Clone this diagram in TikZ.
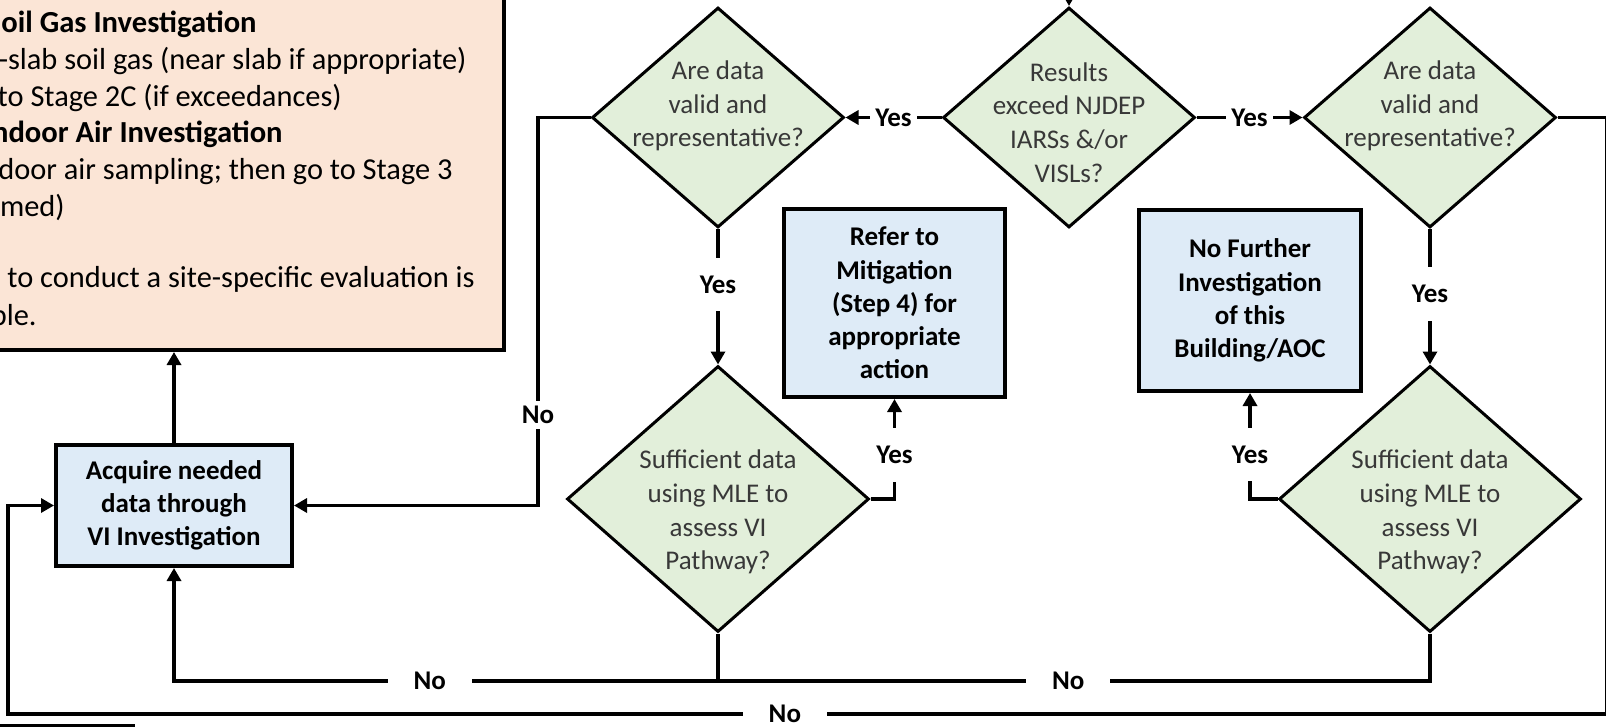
\documentclass[tikz,border=0pt]{standalone}
\usepackage{fontspec}
\setmainfont{Carlito}
\usetikzlibrary{shapes.geometric,arrows.meta}
\definecolor{stagepink}{HTML}{FBE5D6}
\definecolor{boxblue}{HTML}{DEEBF7}
\definecolor{diagreen}{HTML}{E2EFDA}
\definecolor{diagrey}{HTML}{383838}

\begin{document}
\begin{tikzpicture}[x=0.5pt,y=-0.5pt]
	\tikzstyle{dia}=[diamond,draw=black,line width=1.5pt,fill=diagreen,inner sep=0pt,minimum width=126pt,minimum height=110pt]
	\tikzstyle{bigdia}=[dia,minimum width=151pt,minimum height=133pt]
	\tikzstyle{diatext}=[align=center,text=diagrey,font=\fontsize{13.5}{16.8}\selectfont]
	\tikzstyle{box}=[rectangle,draw=black,line width=2pt,fill=boxblue,align=center,inner sep=0pt,font=\bfseries\fontsize{13.5}{16.6}\selectfont]
	\tikzstyle{frag}=[anchor=base east,inner sep=0pt,font=\fontsize{15.2}{18}\selectfont]
	\tikzstyle{fragb}=[frag,font=\bfseries\fontsize{15.3}{18}\selectfont]
	\tikzstyle{lbl}=[fill=white,inner xsep=2.5pt,inner ysep=2.5pt,font=\bfseries\fontsize{13.5}{16}\selectfont]
	\tikzstyle{vlbl}=[lbl,inner xsep=1pt,inner ysep=9pt]
	\tikzstyle{hlbl}=[lbl,inner xsep=13pt]
	\tikzstyle{link}=[line width=1.7pt]
	\tikzstyle{flow}=[link,-{Triangle[length=6.5pt,width=7pt]}]
	\useasboundingbox (0,0) rectangle (1606,727);
	% stage box, cut off at the left and top
	\node[rectangle,draw=black,line width=2pt,fill=stagepink,minimum width=272pt,minimum height=195pt] (stage) at (232,155) {};
	\node[fragb] (t1) at (257,33) {oil Gas Investigation};
	\node[frag] (t2) at (467,70) {-slab soil gas (near slab if appropriate)};
	\node[frag] (t3) at (342,107) {to Stage 2C (if exceedances)};
	\node[fragb] (t4) at (283,143) {ndoor Air Investigation};
	\node[frag] (t5) at (453,180) {door air sampling; then go to Stage 3};
	\node[frag] (t6) at (65,217) {rmed)};
	\node[frag] (t7) at (475,288) {to conduct a site-specific evaluation is};
	\node[frag] (t8) at (37,325) {ble.};
	\node[rectangle,draw=black,line width=1.7pt,fill=white,minimum width=86.5pt,minimum height=37pt] (next) at (46.5,763) {};
	% decisions
	\node[dia] (valid1) at (718,117.5) {};
	\node[diatext] (valid1t) at (718,106) {Are data\\valid and\\representative?};
	\node[dia] (res) at (1069,117.5) {};
	\node[diatext] (rest) at (1069,122.5) {Results\\exceed NJDEP\\IARSs \&/or\\VISLs?};
	\node[dia] (valid2) at (1430,117.5) {};
	\node[diatext] (valid2t) at (1430,106) {Are data\\valid and\\representative?};
	\node[bigdia] (suff1) at (718,499) {};
	\node[diatext] (suff1t) at (718,512) {Sufficient data\\using MLE to\\assess VI\\Pathway?};
	\node[bigdia] (suff2) at (1430,499) {};
	\node[diatext] (suff2t) at (1430,512) {Sufficient data\\using MLE to\\assess VI\\Pathway?};
	% actions
	\node[box,minimum width=110.5pt,minimum height=94pt] (refer) at (894.5,303) {Refer to\\Mitigation\\(Step 4) for\\appropriate\\action};
	\node[box,minimum width=111pt,minimum height=90.5pt] (nofur) at (1250,300.5) {No Further\\Investigation\\of this\\Building/AOC};
	\node[box,minimum width=118pt,minimum height=60.5pt] (acq) at (174,505.5) {Acquire needed\\data through\\VI Investigation};
	\coordinate (in) at (1069,-10);
	\coordinate (nobend) at (538,415);
	\coordinate (join) at (718,681);
	\coordinate (farright) at (1606.5,714);
	\coordinate (farleft) at (8,714);
	% connectors
	\draw[flow] (in) -- (res.north);
	\draw[flow] (res.west) -- node[lbl]{Yes} (valid1.east);
	\draw[flow] (res.east) -- node[lbl]{Yes} (valid2.west);
	\draw[flow] (valid1.south) -- node[vlbl,pos=0.41]{Yes} (suff1.north);
	\draw[flow] (valid2.south) -- node[vlbl,pos=0.48]{Yes} (suff2.north);
	\draw[flow] (valid1.west) -| (nobend) node[lbl]{No} |- (acq.east);
	\draw[flow] (suff1.east) -| node[vlbl,pos=0.72]{Yes} (refer.south);
	\draw[flow] (suff2.west) -| node[vlbl,pos=0.71]{Yes} (nofur.south);
	\draw[flow] (suff1.south) -- (join) -| node[hlbl,pos=0.265]{No} (acq.south);
	\draw[link] (suff2.south) |- node[hlbl,pos=0.754]{No} (join);
	\draw[flow] (valid2.east) -| (farright) -- node[hlbl,pos=0.514]{No} (farleft) |- (acq.west);
	\draw[flow] (acq.north) -- (acq.north |- stage.south);
\end{tikzpicture}
\end{document}
